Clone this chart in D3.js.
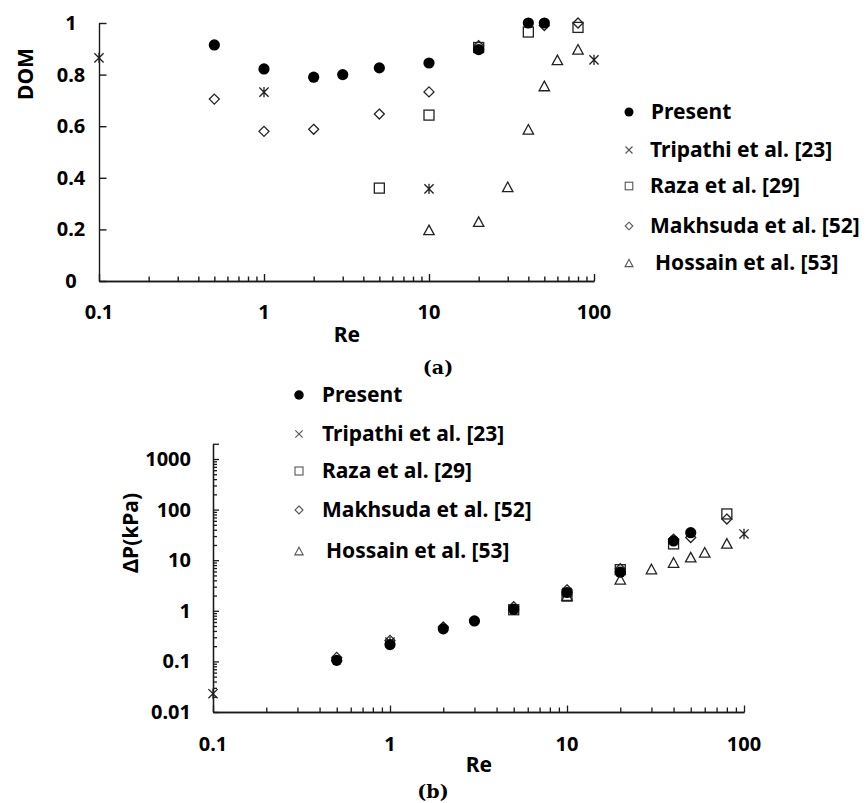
<!DOCTYPE html>
<html><head><meta charset="utf-8">
<script src="https://cdn.jsdelivr.net/npm/d3@7"></script>
<style>
body{margin:0;background:#fff}
svg{display:block}
text{font-family:"Noto Sans",sans-serif;font-weight:bold;fill:#000}
.cap{font-family:"DejaVu Serif",serif;font-weight:bold}
</style>
</head><body><svg id="c" width="868" height="803"></svg>
<script>
const seriesNames = ["Present","Tripathi et al. [23]","Raza et al. [29]","Makhsuda et al. [52]","Hossain et al. [53]"];
const seriesShapes = ["circle","star","square","diamond","triangle"];

// (a) DOM vs Re
const domPresentRe = [0.5,1,2,3,5,10,20,40,50];
const domPresent   = [0.915,0.822,0.79,0.80,0.826,0.845,0.897,1.0,1.0];
const domTripathiRe = [0.1,1,10,100];
const domTripathi   = [0.865,0.732,0.357,0.857];
const domRazaRe = [5,10,20,40,80];
const domRaza   = [0.36,0.643,0.905,0.965,0.983];
const domMakhsudaRe = [0.5,1,2,5,10,20,50,80];
const domMakhsuda   = [0.705,0.58,0.588,0.647,0.733,0.912,0.99,1.0];
const domHossainRe = [10,20,30,40,50,60,80];
const domHossain   = [0.198,0.23,0.365,0.588,0.756,0.857,0.898];

// (b) pressure drop vs Re
const dpPresentRe = [0.5,1,2,3,5,10,20,40,50];
const dpPresent   = [0.105,0.215,0.44,0.63,1.07,2.3,5.8,24,35];
const dpTripathiRe = [0.1,1,10,100];
const dpTripathi   = [0.023,0.24,2.3,33];
const dpRazaRe = [5,10,20,40,80];
const dpRaza   = [1.05,1.95,6.5,21,82];
const dpMakhsudaRe = [0.5,1,2,5,10,20,40,50,80];
const dpMakhsuda   = [0.12,0.26,0.48,1.2,2.6,6.8,26,28,65];
const dpHossainRe = [10,20,30,40,50,60,80];
const dpHossain   = [2.0,4.2,6.7,9.0,11.5,14.3,21.5];

const xTickLabels = ["0.1","1","10","100"];
const domTickLabels = ["0","0.2","0.4","0.6","0.8","1"];
const dpTickLabels = ["0.01","0.1","1","10","100","1000"];

const svg = d3.select("#c");
const INK = "#1a1a1a";

function marker(g, shape, x, y, s, col, sw){
  const k = s/10;
  if(shape==="circle"){
    g.append("circle").attr("cx",x).attr("cy",y).attr("r",5.6*k).attr("fill","#000");
  } else if(shape==="star" || shape==="cross"){
    const a=4.6*k;
    const p = `M${x-a},${y-a}L${x+a},${y+a}M${x-a},${y+a}L${x+a},${y-a}` + (shape==="star"?`M${x},${y-a-0.6}L${x},${y+a+0.6}`:"");
    g.append("path").attr("d",p).attr("stroke",col).attr("stroke-width",sw).attr("fill","none");
  } else if(shape==="square"){
    const a=5*k;
    g.append("rect").attr("x",x-a).attr("y",y-a).attr("width",2*a).attr("height",2*a)
      .attr("fill","none").attr("stroke",col).attr("stroke-width",sw);
  } else if(shape==="diamond"){
    const a=5*k;
    g.append("path").attr("d",`M${x},${y-a}L${x+a},${y}L${x},${y+a}L${x-a},${y}Z`)
      .attr("fill","none").attr("stroke",col).attr("stroke-width",sw);
  } else if(shape==="triangle"){
    const a=5.2*k, h=4.8*k;
    g.append("path").attr("d",`M${x},${y-h}L${x+a},${y+h}L${x-a},${y+h}Z`)
      .attr("fill","none").attr("stroke",col).attr("stroke-width",sw);
  }
}

function minorValues(lo, hi){
  const out=[];
  for(let e=lo;e<hi;e++){ for(let m=2;m<=9;m++) out.push(m*Math.pow(10,e)); }
  return out;
}

const TICKFS = "20px", TITLEFS = "21px", LEGFS = "21px";

// ---------- (a) ----------
const xA = d3.scaleLog().domain([0.1,100]).range([99,594]);
const yA = d3.scaleLinear().domain([0,1]).range([281,23]);
const gA = svg.append("g");

gA.append("g").attr("transform",`translate(0,${yA(0)})`)
  .call(d3.axisBottom(xA).tickValues(minorValues(-1,2)).tickSize(-4.5).tickSizeOuter(0).tickFormat(""));
gA.append("g").attr("transform",`translate(0,${yA(0)})`)
  .call(d3.axisBottom(xA).tickValues([0.1,1,10,100]).tickSize(-7).tickSizeOuter(0).tickFormat(""));
gA.append("g").attr("transform",`translate(${xA(0.1)},0)`)
  .call(d3.axisLeft(yA).tickValues([0,0.2,0.4,0.6,0.8,1]).tickSize(-7.5).tickSizeOuter(0).tickFormat(""));
gA.selectAll(".domain,.tick line").attr("stroke",INK).attr("stroke-width",1.4);

[0.1,1,10,100].forEach((v,i)=>{
  gA.append("text").attr("x",xA(v)).attr("y",312).attr("dy","0.35em").attr("text-anchor","middle")
    .style("font-size",TICKFS).text(xTickLabels[i]);
});
[0,0.2,0.4,0.6,0.8,1].forEach((v,i)=>{
  gA.append("text").attr("x",71).attr("y",yA(v)).attr("dy","0.35em").attr("text-anchor","middle")
    .style("font-size",TICKFS).text(domTickLabels[i]);
});
gA.append("text").attr("x",347).attr("y",335).attr("dy","0.35em").attr("text-anchor","middle")
  .style("font-size",TITLEFS).text("Re");
gA.append("text").attr("transform","translate(26,74) rotate(-90)").attr("dy","0.35em").attr("text-anchor","middle")
  .style("font-size",TITLEFS).text("DOM");
gA.append("text").attr("class","cap").attr("x",438).attr("y",367).attr("dy","0.35em").attr("text-anchor","middle")
  .style("font-size","19px").text("(a)");

const domSeries = [
  [domPresentRe,domPresent],[domTripathiRe,domTripathi],[domRazaRe,domRaza],
  [domMakhsudaRe,domMakhsuda],[domHossainRe,domHossain]
];
const pA = gA.append("g");
[1,2,3,4,0].forEach(si=>{
  const [xs,ys]=domSeries[si];
  xs.forEach((r,j)=>marker(pA, seriesShapes[si], xA(r), yA(ys[j]), 10, "#222", 1.3));
});

const legA_y = [112,150,186,226,263];
const legA_tx = [651,650,650,650,655];
const legShapes = ["circle","cross","square","diamond","triangle"];
seriesNames.forEach((n,i)=>{
  marker(gA, legShapes[i], 629, legA_y[i], i===0?8:7.6, "#555", 1.1);
  gA.append("text").attr("x",legA_tx[i]).attr("y",legA_y[i]).attr("dy","0.35em")
    .style("font-size",LEGFS).text(n);
});

// ---------- (b) ----------
const xB = d3.scaleLog().domain([0.1,100]).range([213,744]);
const yB = d3.scaleLog().domain([0.01,1000]).range([712,459]);
const gB = svg.append("g");

gB.append("g").attr("transform",`translate(0,${yB(0.01)})`)
  .call(d3.axisBottom(xB).tickValues(minorValues(-1,2)).tickSize(-4.5).tickSizeOuter(0).tickFormat(""));
gB.append("g").attr("transform",`translate(0,${yB(0.01)})`)
  .call(d3.axisBottom(xB).tickValues([0.1,1,10,100]).tickSize(-6.5).tickSizeOuter(0).tickFormat(""));
const yBext = d3.scaleLog().domain([0.01,2000]).range([yB(0.01),yB(2000)]);
gB.append("g").attr("transform",`translate(${xB(0.1)},0)`)
  .call(d3.axisLeft(yBext).tickValues(minorValues(-2,3)).tickSize(-4).tickSizeOuter(0).tickFormat(""));
gB.append("g").attr("transform",`translate(${xB(0.1)},0)`)
  .call(d3.axisLeft(yBext).tickValues([0.01,0.1,1,10,100,1000,2000]).tickSize(-6).tickSizeOuter(0).tickFormat(""));
gB.selectAll(".domain,.tick line").attr("stroke",INK).attr("stroke-width",1.3);

[0.1,1,10,100].forEach((v,i)=>{
  gB.append("text").attr("x",xB(v)).attr("y",744).attr("dy","0.35em").attr("text-anchor","middle")
    .style("font-size",TICKFS).text(xTickLabels[i]);
});
[0.01,0.1,1,10,100,1000].forEach((v,i)=>{
  gB.append("text").attr("x",191).attr("y",yB(v)).attr("dy","0.35em").attr("text-anchor","end")
    .style("font-size",TICKFS).text(dpTickLabels[i]);
});
gB.append("text").attr("x",479).attr("y",765).attr("dy","0.35em").attr("text-anchor","middle")
  .style("font-size",TITLEFS).text("Re");
gB.append("text").attr("transform","translate(131,533) rotate(-90)").attr("dy","0.35em").attr("text-anchor","middle")
  .style("font-size",TITLEFS).text("\u0394P(kPa)");
gB.append("text").attr("class","cap").attr("x",433).attr("y",791).attr("dy","0.35em").attr("text-anchor","middle")
  .style("font-size","19px").text("(b)");

const dpSeries = [
  [dpPresentRe,dpPresent],[dpTripathiRe,dpTripathi],[dpRazaRe,dpRaza],
  [dpMakhsudaRe,dpMakhsuda],[dpHossainRe,dpHossain]
];
const pB = gB.append("g");
[1,2,3,4,0].forEach(si=>{
  const [xs,ys]=dpSeries[si];
  xs.forEach((r,j)=>marker(pB, seriesShapes[si], xB(r), yB(ys[j]), 10, "#222", 1.3));
});

const legB_y = [395,434,471,510,551];
const legB_tx = [322,322,322,322,326];
seriesNames.forEach((n,i)=>{
  marker(gB, legShapes[i], 299, legB_y[i], i===0?8.5:8, "#555", 1.1);
  gB.append("text").attr("x",legB_tx[i]).attr("y",legB_y[i]).attr("dy","0.35em")
    .style("font-size",LEGFS).text(n);
});
</script>
</body></html>
